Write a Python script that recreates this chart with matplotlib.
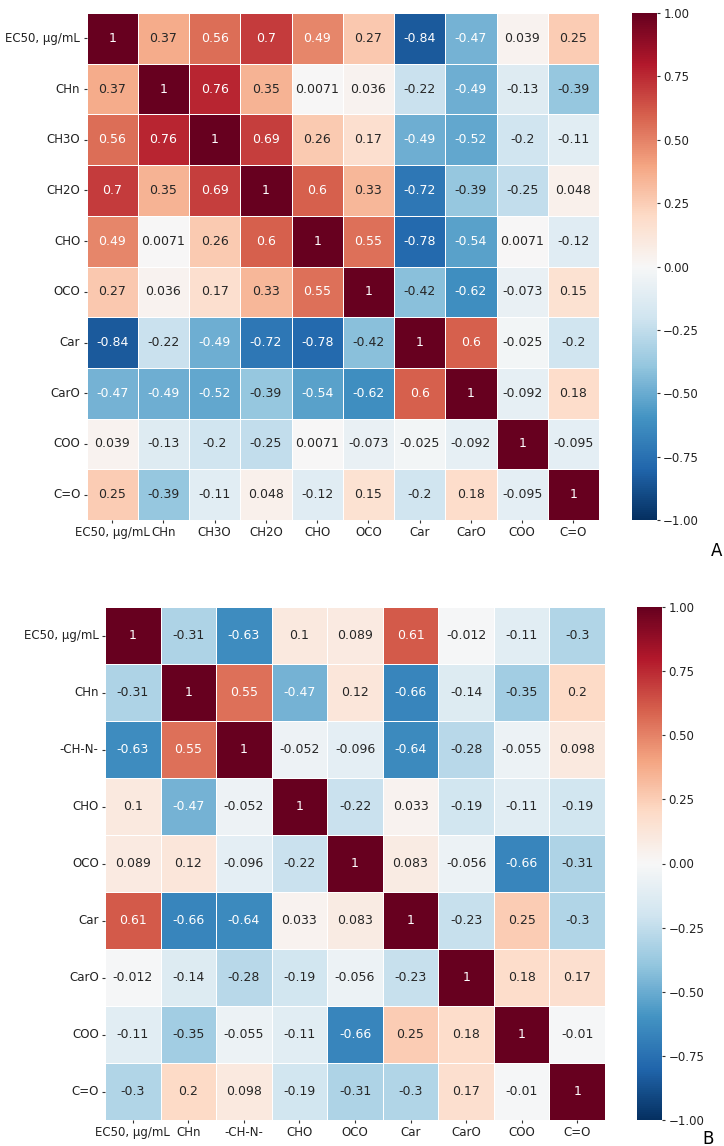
import numpy as np
import matplotlib
matplotlib.use("Agg")
import matplotlib.pyplot as plt
import seaborn as sns

# Korelasi panel A
labels_a = ["EC50, µg/mL", "CHn", "CH3O", "CH2O", "CHO", "OCO", "Car", "CarO", "COO", "C=O"]
corr_a = [
    [1, 0.37, 0.56, 0.7, 0.49, 0.27, -0.84, -0.47, 0.039, 0.25],
    [0.37, 1, 0.76, 0.35, 0.0071, 0.036, -0.22, -0.49, -0.13, -0.39],
    [0.56, 0.76, 1, 0.69, 0.26, 0.17, -0.49, -0.52, -0.2, -0.11],
    [0.7, 0.35, 0.69, 1, 0.6, 0.33, -0.72, -0.39, -0.25, 0.048],
    [0.49, 0.0071, 0.26, 0.6, 1, 0.55, -0.78, -0.54, 0.0071, -0.12],
    [0.27, 0.036, 0.17, 0.33, 0.55, 1, -0.42, -0.62, -0.073, 0.15],
    [-0.84, -0.22, -0.49, -0.72, -0.78, -0.42, 1, 0.6, -0.025, -0.2],
    [-0.47, -0.49, -0.52, -0.39, -0.54, -0.62, 0.6, 1, -0.092, 0.18],
    [0.039, -0.13, -0.2, -0.25, 0.0071, -0.073, -0.025, -0.092, 1, -0.095],
    [0.25, -0.39, -0.11, 0.048, -0.12, 0.15, -0.2, 0.18, -0.095, 1],
]

# Korelasi panel B
labels_b = ["EC50, µg/mL", "CHn", "-CH-N-", "CHO", "OCO", "Car", "CarO", "COO", "C=O"]
corr_b = [
    [1, -0.31, -0.63, 0.1, 0.089, 0.61, -0.012, -0.11, -0.3],
    [-0.31, 1, 0.55, -0.47, 0.12, -0.66, -0.14, -0.35, 0.2],
    [-0.63, 0.55, 1, -0.052, -0.096, -0.64, -0.28, -0.055, 0.098],
    [0.1, -0.47, -0.052, 1, -0.22, 0.033, -0.19, -0.11, -0.19],
    [0.089, 0.12, -0.096, -0.22, 1, 0.083, -0.056, -0.66, -0.31],
    [0.61, -0.66, -0.64, 0.033, 0.083, 1, -0.23, 0.25, -0.3],
    [-0.012, -0.14, -0.28, -0.19, -0.056, -0.23, 1, 0.18, 0.17],
    [-0.11, -0.35, -0.055, -0.11, -0.66, 0.25, 0.18, 1, -0.01],
    [-0.3, 0.2, 0.098, -0.19, -0.31, -0.3, 0.17, -0.01, 1],
]

W, H = 724, 1146
fig = plt.figure(figsize=(W / 100, H / 100), dpi=100)

def box(x0, y0, x1, y1):
    # piksel -> koordinat figure
    return [x0 / W, 1 - y1 / H, (x1 - x0) / W, (y1 - y0) / H]

def draw(data, labels, hm_box, cb_box):
    ax = fig.add_axes(box(*hm_box))
    cax = fig.add_axes(box(*cb_box))
    sns.heatmap(np.array(data), ax=ax, cbar_ax=cax, cmap="RdBu_r", vmin=-1, vmax=1,
                annot=True, fmt=".2g", linewidths=0.6, linecolor="white",
                annot_kws={"fontsize": 9},
                xticklabels=labels, yticklabels=labels)
    ax.tick_params(labelsize=8.5, length=2.5, pad=2, colors="#333333", labelcolor="#222222")
    plt.setp(ax.get_xticklabels(), rotation=0)
    plt.setp(ax.get_yticklabels(), rotation=0)
    cax.set_yticks([-1, -0.75, -0.5, -0.25, 0, 0.25, 0.5, 0.75, 1])
    cax.yaxis.set_major_formatter(matplotlib.ticker.FormatStrFormatter("%.2f"))
    cax.tick_params(labelsize=8.5, length=2.5, pad=2, colors="#333333", labelcolor="#222222")
    cax.set_yticklabels([t.get_text().replace("-", "\u2212") for t in cax.get_yticklabels()])
    return ax

draw(corr_a, labels_a, (86.5, 13, 599, 520), (632, 13, 657, 520))
draw(corr_b, labels_b, (105, 607, 605, 1120), (637, 607, 662, 1120))

fig.text(717 / W, 1 - 551 / H, "A", fontsize=12, ha="center", va="center")
fig.text(708 / W, 1 - 1139 / H, "B", fontsize=12, ha="center", va="center")

fig.savefig("out.png", dpi=100)
